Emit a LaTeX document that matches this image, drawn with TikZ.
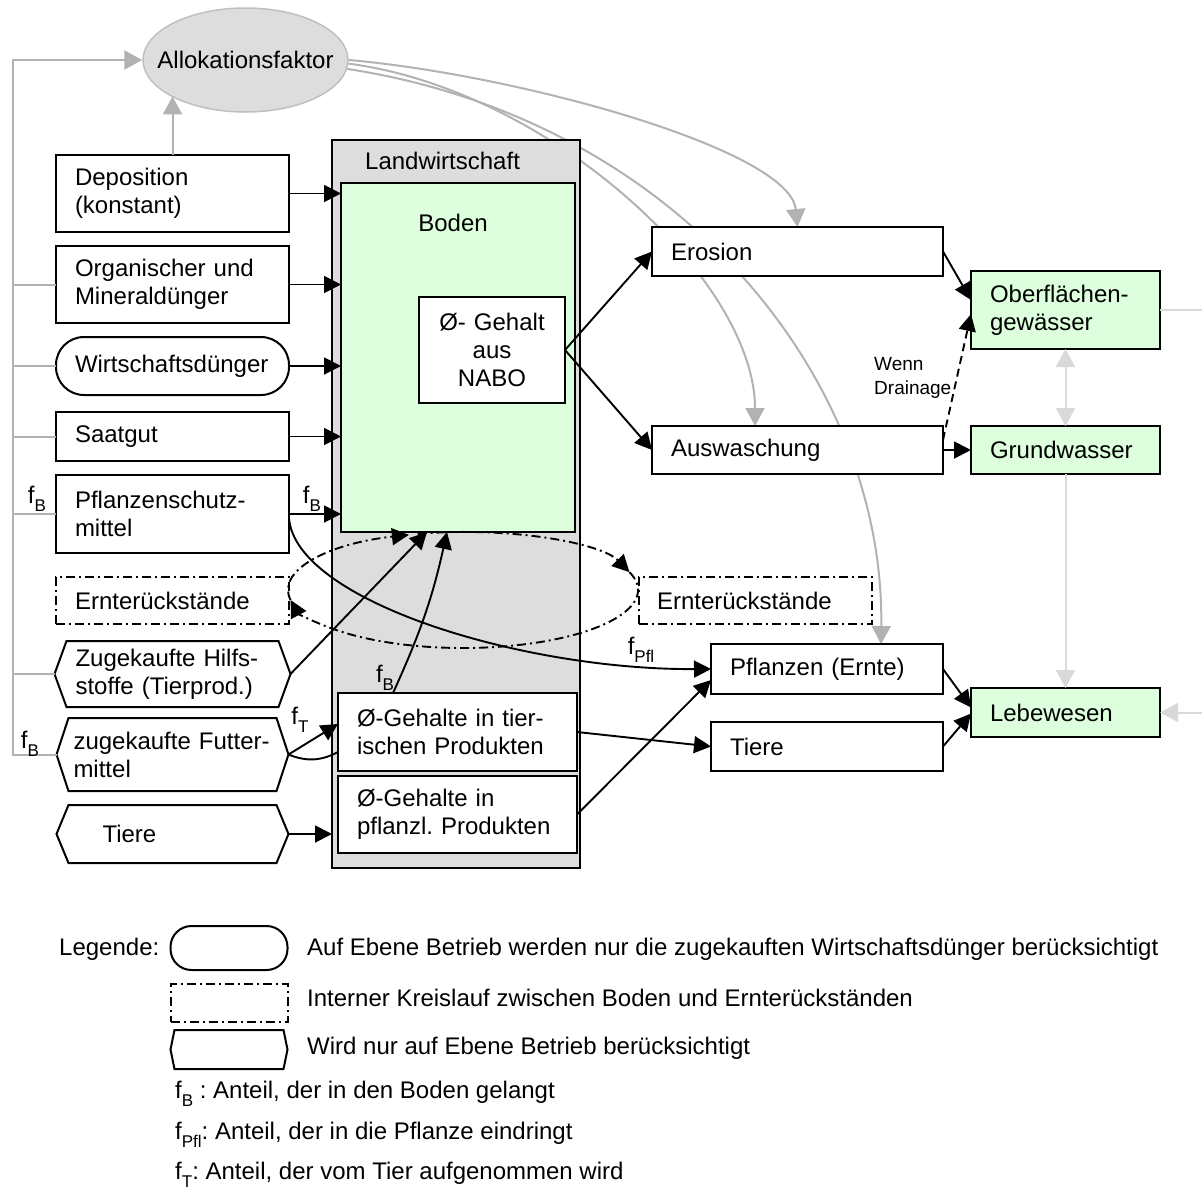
\documentclass[tikz,border=0pt]{standalone}
\usepackage{fontspec}
\setmainfont{Liberation Sans}
\usetikzlibrary{arrows.meta,positioning,shapes.geometric}
\definecolor{bodengruen}{HTML}{DDFFDD}
\definecolor{lwgrau}{HTML}{DDDDDD}
\definecolor{allograu}{HTML}{BFBFBF}
\definecolor{pfeilgrau}{HTML}{B2B2B2}
\definecolor{hellgrau}{HTML}{D9D9D9}
\newcommand{\fidx}[1]{f\raisebox{-0.6ex}{\fontsize{17}{17}\selectfont #1}}
\frenchspacing
\pgfdeclarelayer{background}
\pgfsetlayers{background,main}
\tikzset{
box/.style={draw, fill=white, line width=2pt, outer sep=0pt, align=left, inner ysep=0pt, inner xsep=19pt, minimum width=233pt, text width=195pt},
hexbox/.style={align=left, inner ysep=0pt, outer sep=0pt},
rahmen/.style={draw, line width=2pt},
gruenbox/.style={box, fill=bodengruen, minimum width=189pt, text width=151pt},
lwbox/.style={draw, fill=lwgrau, line width=2pt, minimum width=248pt, minimum height=728pt, inner sep=0pt, outer sep=0pt},
bodenbox/.style={draw, fill=bodengruen, line width=2pt, minimum width=234pt, minimum height=349pt, inner sep=0pt, outer sep=0pt},
kreislauf/.style={dash pattern=on 9pt off 4pt on 2pt off 4pt},
arr/.style={line width=1.9pt, -{Triangle[length=17pt, width=17pt]}},
linie/.style={line width=1.9pt},
grauarr/.style={draw=pfeilgrau, line width=2pt, -{Triangle[length=18pt, width=19pt]}},
graulinie/.style={draw=pfeilgrau, line width=2pt},
hellarr/.style={draw=hellgrau, line width=2pt, -{Triangle[length=18pt, width=19pt]}},
helllinie/.style={draw=hellgrau, line width=2pt},
hellpfeil2/.style={draw=hellgrau, line width=2pt, {Triangle[length=18pt, width=19pt]}-{Triangle[length=18pt, width=19pt]}},
flabel/.style={inner sep=0pt},
legtext/.style={anchor=west, inner sep=0pt},
legform/.style={draw, line width=2pt, minimum width=117pt, inner sep=0pt, outer sep=0pt}
}

\begin{document}
\begin{tikzpicture}[x=1pt, y=-1pt, font=\fontsize{24}{28}\selectfont, node distance=14pt]
\useasboundingbox (0,0) rectangle (1202,1197);

% Landwirtschaft und Boden
\node[lwbox] (lw) at (456,504) {};
\node[anchor=west, inner sep=0pt] (lwtitel) at (365,161) {Landwirtschaft};
\node[bodenbox] (boden) at (458,357.5) {};
\node[inner sep=0pt] (bodentitel) at (453,223) {Boden};
\node[box, align=center, minimum width=146pt, text width=130pt, inner xsep=8pt, minimum height=106pt] (nabo) at (492,350) {Ø- Gehalt\\aus\\NABO};
\node[box, minimum width=239pt, text width=201pt, minimum height=78pt] (tgeh) at (457.5,732) {Ø-Gehalte in tier-\\ischen Produkten};
\node[box, minimum width=239pt, text width=201pt, minimum height=77pt, below=5pt of tgeh] (pgeh) {Ø-Gehalte in\\pflanzl. Produkten};

\node[ellipse, draw=allograu, fill=lwgrau, line width=1.5pt, minimum width=205pt, minimum height=104pt, inner sep=0pt] (alloc) at (245.5,60) {\makebox[0pt]{Allokationsfaktor}};

% Eintraege links
\node[box, minimum height=77pt] (depo) at (172.5,193.5) {Deposition\\(konstant)};
\node[box, minimum height=77pt, below=of depo] (orga) {Organischer und\\Mineraldünger};
\node[box, rounded corners=28pt, minimum height=58pt, below=of orga] (wirt) {\mbox{Wirtschaftsdünger}};
\node[box, minimum height=49pt, below=17pt of wirt] (saat) {Saatgut};
\node[box, minimum height=78pt, below=of saat] (psm) {Pflanzenschutz-\\mittel};
\node[box, kreislauf, minimum height=47pt, below=24pt of psm] (erl) {Ernterückstände};
\node[hexbox, minimum width=236pt, text width=194pt, inner xsep=21pt, minimum height=66pt, below=17pt of erl] (hilf) {\mbox{Zugekaufte Hilfs-}\\\mbox{stoffe (Tierprod.)}};
\node[hexbox, minimum width=232pt, text width=198pt, inner xsep=17pt, minimum height=73pt, below=11pt of hilf] (futt) {\mbox{zugekaufte Futter-}\\mittel};
\node[hexbox, minimum width=232pt, text width=140pt, inner xsep=46pt, minimum height=58pt, below=of futt] (tierl) {Tiere};

% Austraege rechts
\node[box, minimum width=291pt, text width=253pt, minimum height=49pt] (eros) at (797.5,251.5) {Erosion};
\node[box, minimum width=291pt, text width=253pt, minimum height=48pt] (ausw) at (797.5,450) {Auswaschung};
\node[box, kreislauf, inner xsep=18pt, text width=197pt, minimum height=47pt] (err) at (755.5,600.5) {Ernterückstände};
\node[box, minimum width=232pt, text width=194pt, minimum height=50pt] (pfl) at (827,669) {Pflanzen (Ernte)};
\node[box, minimum width=232pt, text width=194pt, minimum height=49pt, below=28pt of pfl] (tierr) {Tiere};
\node[gruenbox, minimum height=78pt] (ober) at (1065.5,310) {Oberflächen-\\gewässer};
\node[gruenbox, minimum height=48pt] (grund) at (1065.5,450) {Grundwasser};
\node[gruenbox, minimum height=49pt] (lebe) at (1065.5,712.5) {Lebewesen};

% Legende
\node[legtext] (legende) at (59,949) {Legende:};
\node[legform, rounded corners=21pt, minimum height=44pt] (legwirt) at (229,948) {};
\node[legform, kreislauf, minimum height=38pt, below=14pt of legwirt] (legkreis) {};
\node[minimum width=117pt, minimum height=39pt, inner sep=0pt, outer sep=0pt, below=8pt of legkreis] (legbetrieb) {};
\node[legtext] (legtext1) at (307,949) {Auf Ebene Betrieb werden nur die zugekauften Wirtschaftsdünger berücksichtigt};
\node[legtext] (legtext2) at (307,998) {Interner Kreislauf zwischen Boden und Ernterückständen};
\node[legtext] (legtext3) at (307,1048) {Wird nur auf Ebene Betrieb berücksichtigt};
\node[legtext] (legfb) at (175,1094) {\fidx{B} : Anteil, der in den Boden gelangt};
\node[legtext] (legfpfl) at (175,1135) {\fidx{Pfl}: Anteil, der in die Pflanze eindringt};
\node[legtext] (legft) at (175,1175) {\fidx{T}: Anteil, der vom Tier aufgenommen wird};

\foreach \n/\d in {hilf/12,futt/12,tierl/12,legbetrieb/4}
  \draw[rahmen] ([xshift=\d pt]\n.north west) -- ([xshift=-\d pt]\n.north east) -- (\n.east) -- ([xshift=-\d pt]\n.south east) -- ([xshift=\d pt]\n.south west) -- (\n.west) -- cycle;

% Allokation
\coordinate (railtop) at (13,60);
\coordinate (railbot) at (13,754.5);
\draw[grauarr] (futt.west) -- (railbot) -- (railtop) -- (alloc.west);
\foreach \n in {orga,wirt,saat,psm,hilf}
  \draw[graulinie] (\n.west) -- (\n.west -| railtop);
\draw[grauarr] (depo.north) -- (depo.north |- alloc.206);
\begin{pgfonlayer}{background}
\draw[grauarr] (alloc.east) .. controls (520,75) and (790,150) .. (eros.north);
\draw[grauarr] (alloc.358) .. controls (550,90) and (755,280) .. ([xshift=-42.5pt]ausw.north);
\draw[grauarr] (alloc.355) .. controls (680,120) and (885,380) .. ([xshift=54pt]pfl.north);
\end{pgfonlayer}

% Gewaesser
\coordinate (randober) at (1202,310);
\coordinate (randlebe) at (1202,712.5);
\draw[hellarr] (grund.south) -- (lebe.north);
\draw[hellpfeil2] (ober.south) -- (grund.north);
\draw[helllinie] (ober.east) -- (randober);
\draw[hellarr] (randlebe) -- (lebe.east);

% Fluesse
\foreach \n in {depo,orga,wirt,saat,psm}
  \draw[arr] (\n.east) -- (\n.east -| boden.west);
\draw[arr] (tierl.east) -- (tierl.east -| lw.west);
\draw[arr] (futt.east) -- ([yshift=8pt]tgeh.west);
\draw[linie] (futt.east) to[bend right=25] ([yshift=-20pt]tgeh.west);
\draw[arr] (hilf.east) -- ([xshift=-31pt]boden.south);
\draw[arr] ([xshift=-64.5pt]tgeh.north) to[bend right=6] ([xshift=-11pt]boden.south);
\draw[arr] ([yshift=-4pt]psm.east) .. controls (295,600) and (520,670) .. (pfl.west);
\draw[arr] (pgeh.east) -- ([yshift=-11pt]pfl.west);
\draw[arr] (tgeh.east) -- (tierr.west);
\draw[arr] (pfl.east) -- ([yshift=5pt]lebe.west);
\draw[arr] (tierr.east) -- ([yshift=-1pt]lebe.west);
\draw[arr] (nabo.east) -- (eros.west);
\draw[arr] (nabo.east) -- (ausw.west);
\draw[arr] (eros.east) -- ([yshift=10pt]ober.west);
\draw[arr] (ausw.east) -- (grund.west);
\draw[arr, dash pattern=on 8pt off 5pt] ([yshift=10pt]ausw.east) -- ([yshift=-4pt]ober.west);
\node[anchor=west, inner sep=0pt, align=left, font=\fontsize{19}{24}\selectfont] (drain) at (874,378) {Wenn\\Drainage};

% Kreislauf Boden - Ernterueckstaende
\draw[arr, kreislauf] (463,590) ++(255:175 and 58) arc[start angle=255, end angle=342, x radius=175, y radius=58];
\draw[arr, kreislauf] (463,590) ++(342:175 and 58) arc[start angle=342, end angle=530, x radius=175, y radius=58];
\draw[arr, kreislauf] (463,590) ++(170:175 and 58) arc[start angle=170, end angle=252, x radius=175, y radius=58];

% Anteile
\node[flabel] (fbpsm) at (37,499) {\fidx{B}};
\node[flabel] (fbarr) at (312,499) {\fidx{B}};
\node[flabel] (ftfut) at (300,720) {\fidx{T}};
\node[flabel] (fbfut) at (30,744) {\fidx{B}};
\node[flabel] (fbtier) at (385,678) {\fidx{B}};
\node[flabel] (fpfl) at (641,650) {\fidx{Pfl}};
\end{tikzpicture}
\end{document}
